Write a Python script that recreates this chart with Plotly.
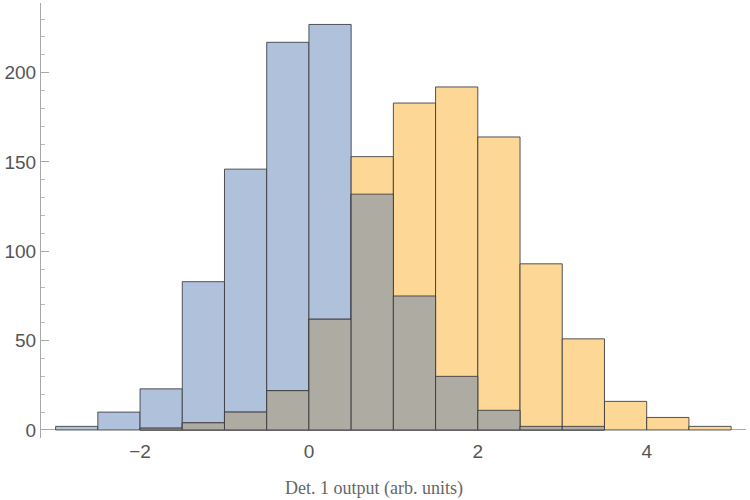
import plotly.graph_objects as go

bin_starts = [-3.0, -2.5, -2.0, -1.5, -1.0, -0.5, 0.0, 0.5, 1.0, 1.5, 2.0, 2.5, 3.0, 3.5, 4.0, 4.5]
blue_counts = [2, 10, 23, 83, 146, 217, 227, 132, 75, 30, 11, 2, 2, 0, 0, 0]
orange_counts = [0, 0, 1, 4, 10, 22, 62, 153, 183, 192, 164, 93, 51, 16, 7, 2]
bin_width = 0.5

centers = [b + bin_width / 2 for b in bin_starts]
overlap = [min(a, b) for a, b in zip(blue_counts, orange_counts)]


def nz(vals):
    # empty bins are not drawn at all
    return [v if v > 0 else None for v in vals]


edge = dict(color="rgba(55,55,60,0.85)", width=1)

fig = go.Figure()
fig.add_trace(go.Bar(x=centers, y=nz(blue_counts), width=bin_width,
                     marker=dict(color="#B0C1DB", line=edge)))
fig.add_trace(go.Bar(x=centers, y=nz(orange_counts), width=bin_width,
                     marker=dict(color="#FCD796", line=edge)))
fig.add_trace(go.Bar(x=centers, y=nz(overlap), width=bin_width,
                     marker=dict(color="#AEABA3", line=edge)))

fig.update_layout(
    width=750, height=500,
    barmode="overlay",
    showlegend=False,
    plot_bgcolor="white", paper_bgcolor="white",
    margin=dict(l=41, r=4, t=3, b=62),
    xaxis=dict(range=[-3.173, 5.176], tickvals=[-2, 0, 2, 4],
               ticktext=["\u22122", "0", "2", "4"],
               showgrid=False, zeroline=False, showline=False, ticks="",
               tickfont=dict(family="Liberation Sans, Arial", size=19, color="#555555")),
    yaxis=dict(range=[-4.5, 239], tickvals=[0, 50, 100, 150, 200],
               showgrid=False, zeroline=True, zerolinecolor="#A8A8A8", zerolinewidth=1,
               showline=True, linecolor="#A8A8A8", linewidth=1,
               ticks="inside", ticklen=8, tickcolor="#A8A8A8",
               minor=dict(dtick=10, tick0=0, ticks="inside", ticklen=4, tickcolor="#B8B8B8"),
               tickfont=dict(family="Liberation Sans, Arial", size=19, color="#555555")),
    annotations=[dict(text="Det. 1 output (arb. units)", xref="paper", yref="paper",
                      x=(374 - 41) / 705, y=-(488 - 438) / 435,
                      xanchor="center", yanchor="middle", showarrow=False,
                      font=dict(family="Liberation Serif, Times New Roman", size=18, color="#666666"))],
)

fig.write_html("out.html")
